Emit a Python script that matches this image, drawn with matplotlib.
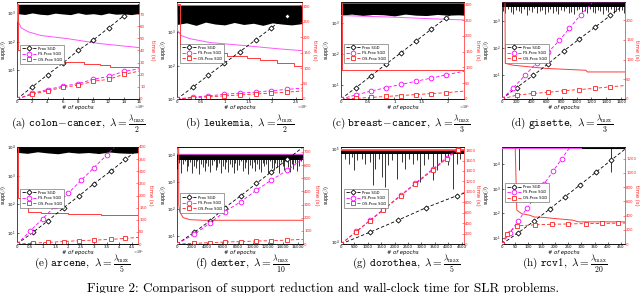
import numpy as np
import matplotlib
matplotlib.use("Agg")
import matplotlib.pyplot as plt
from matplotlib.ticker import FixedLocator, NullLocator

plt.rcParams['mathtext.fontset'] = 'cm'
plt.rcParams['font.family'] = ['DejaVu Sans']

# ---------------- data ----------------
legend_labels = ["Prox SGD", "FS-Prox SGD", "OS-Prox SGD"]

# (a) colon-cancer  (epochs in units of 1e4)
a_t_x = [0, 2, 4, 6, 8, 10, 12, 14, 16]
a_t_prox = [0, 10, 20, 29.5, 40, 48.6, 58.6, 68.6, 78]
a_t_fs = [0, 4.6, 7.8, 10.5, 12.7, 16.2, 18.6, 22.7, 24.9]
a_t_os = [0, 3.8, 6.8, 9.5, 11.4, 14.6, 16.2, 20.3, 23]
a_band_x = [0, 1, 2, 3, 4, 5, 6, 7, 8, 9, 10, 11, 12, 13, 14, 15, 16]
a_band_lo = [950, 880, 1000, 900, 860, 980, 920, 870, 1010, 890, 940, 860, 990, 900, 930, 870, 960]
a_band_hi = 2000
a_fs_x = [0, 0.05, 0.1, 0.56, 1.42, 3.15, 6.6, 10.9, 16]
a_fs_supp = [2000, 2000, 525, 300, 222, 163, 127, 85, 62]
a_os_x = [0, 0.1, 0.13, 0.56, 2.3, 4.0, 5.7, 8.75, 10.9, 12.2, 16]
a_os_supp = [2000, 2000, 49, 38, 29, 22, 19.5, 17, 15, 13, 12]

# (b) leukemia (epochs in units of 1e5)
b_t_x = [0, 0.33, 0.66, 0.99, 1.32, 1.65, 1.98, 2.31, 2.62]
b_t_prox = [0, 38, 77, 115, 153, 191, 230, 268, 304]
b_t_fs = [0, 6, 10, 15, 19, 22, 27, 31, 35]
b_t_os = [0, 4, 7, 10, 13, 16, 19, 22, 26]
b_band_x = [0, 0.2, 0.4, 0.6, 0.8, 1.0, 1.2, 1.4, 1.6, 1.8, 2.0, 2.2, 2.4, 2.62]
b_band_lo = [1700, 1900, 1600, 2000, 1750, 1650, 1950, 1700, 1850, 1600, 1900, 1750, 1650, 1800]
b_band_hi = 6500
b_fs_x = [0, 0.01, 0.09, 0.27, 0.69, 1.39, 2.1, 2.62]
b_fs_supp = [7129, 1120, 790, 640, 490, 400, 320, 280]
b_os_x = [0, 0.01, 0.06, 0.48, 1.04, 1.46, 1.75, 2.1, 2.45, 2.62]
b_os_supp = [7129, 7129, 320, 245, 196, 170, 148, 120, 97, 85]

# (c) breast-cancer (epochs in units of 1e5)
c_t_x = [0, 0.28, 0.56, 0.84, 1.12, 1.40, 1.68, 1.96, 2.3]
c_t_prox = [0, 36, 73, 110, 146, 183, 220, 256, 300]
c_t_fs = [0, 13, 25, 36, 46, 56, 66, 76, 88]
c_t_os = [0, 2, 5, 8, 11, 14, 17, 20, 25]
c_band_x = [0, 0.2, 0.4, 0.6, 0.8, 1.0, 1.2, 1.4, 1.6, 1.8, 2.0, 2.2, 2.3]
c_band_lo = [1800, 1950, 1750, 1900, 1850, 1700, 1950, 1800, 1750, 1900, 1800, 1850, 1800]
c_band_hi = 4500
c_fs_x = [0, 0.5, 1.0, 1.5, 2.0, 2.3]
c_fs_supp = [1750, 1650, 1550, 1420, 1320, 1260]
c_os_x = [0, 0.01, 2.3]
c_os_supp = [4800, 31, 31]

# (d) gisette
d_t_x = [0, 198, 419, 617, 829, 1036, 1247, 1454, 1650]
d_t_prox = [0, 29, 60, 89, 122, 152, 182, 212, 241]
d_t_fs_x = [0, 154, 308, 463, 617, 771, 903, 1058, 1650]
d_t_fs = [0, 29, 60, 91, 118, 149, 179, 214, 330]
d_t_os = [0, 10, 14, 17, 21, 24, 27, 31, 34]
d_band_x = [0, 1650]
d_band_lo = [3400, 3400]
d_band_hi = 5000
d_spike_lo = [2400, 1900, 2700, 2200, 1800, 2600, 2300, 2000, 2800, 1700, 2500, 2100,
              2900, 1900, 2300, 2600, 1800, 2200, 2700, 2000, 2400, 1750, 2600, 2300,
              2900, 2000, 2200, 1850, 2500, 2700, 2100, 2400, 1900, 2800, 2200, 2000,
              2600, 2350, 1800, 2500, 2150, 2700, 1950, 2400, 2250, 2600, 2000]
d_fs_x = [0, 1650]
d_fs_supp = [4900, 4900]
d_os_x = [0, 40, 44, 154, 375, 595, 1124, 1146, 1650]
d_os_supp = [5000, 5000, 27, 23, 20, 17.5, 15, 13, 13]

# (e) arcene (epochs in units of 1e5)
e_t_x = [0, 0.62, 1.2, 1.82, 2.43, 3.01, 3.66, 4.24, 4.73]
e_t_prox = [0, 48, 95, 149, 199, 249, 300, 349, 390]
e_t_fs_x = [0, 0.5, 1.0, 1.5, 2.0, 2.5, 3.0, 3.5, 4.73]
e_t_fs = [0, 52, 104, 157, 209, 262, 314, 366, 495]
e_t_os = [0, 3, 7, 10, 14, 16, 19, 23, 27]
e_band_x = [0, 0.4, 0.8, 1.2, 1.6, 2.0, 2.4, 2.8, 3.2, 3.6, 4.0, 4.4, 4.73]
e_band_lo = [6500, 6000, 6800, 6200, 5800, 6600, 6100, 6400, 5900, 6700, 6200, 6000, 6300]
e_band_hi = 10000
e_fs_x = [0, 0.2, 1.1, 3.0, 4.73]
e_fs_supp = [10000, 9500, 7500, 7200, 7000]
e_os_x = [0, 0.02, 0.04, 0.17, 0.43, 0.94, 1.98, 3.27, 4.73]
e_os_supp = [10000, 10000, 158, 81, 55, 48, 44, 42, 39]

# (f) dexter
f_t_x = [0, 2250, 4320, 6300, 8420, 10490, 12470, 14590, 16660]
f_t_prox = [0, 88, 174, 275, 366, 460, 548, 644, 736]
f_t_fs = [0, 73, 157, 245, 321, 409, 485, 561, 649]
f_t_os = [0, 5, 10, 15, 18, 23, 25, 30, 35]
f_band_x = [0, 16660]
f_band_lo = [6600, 6600]
f_band_hi = 10700
f_spike_lo = [3000, 5200, 2100, 4500, 6000, 2600, 3800, 5500, 2200, 4100, 3300, 5800,
              2000, 4700, 3500, 2500, 5100, 3900, 2300, 4400, 6100, 2800, 3600, 5300,
              2100, 4000, 3100, 5600, 2400, 4600, 3700, 2200, 5000, 2900, 4200, 6200,
              2500, 3400, 5400, 2000, 4300, 3200, 5700, 2600, 4800, 3000, 2300, 5200,
              3800, 4500, 2100, 5900, 3300, 2700, 4900, 3600, 2200, 5500, 4100, 2900,
              6300, 3500, 2400, 4700, 3100, 5000, 2600, 4000, 5800, 3400]
f_fs_x = [0, 100, 16660]
f_fs_supp = [20000, 10700, 10700]
f_os_x = [0, 220, 230, 350, 800, 1700, 3500, 16660]
f_os_supp = [20000, 20000, 150, 80, 48, 40, 38, 38]

# (g) dorothea
g_t_prox_x = [0, 1066, 2144, 3172, 4312, 4590]
g_t_prox = [0, 223, 460, 696, 925, 973]
g_t_x = [0, 570, 1090, 1585, 2240, 2775, 3440, 3940, 4370, 4590]
g_t_fs = [0, 240, 458, 666, 941, 1166, 1445, 1655, 1835, 1930]
g_t_os = [0, 235, 450, 655, 930, 1150, 1425, 1635, 1810, 1905]
g_band_x = [0, 4590]
g_band_lo = [88000, 88000]
g_band_hi = 100000
g_spike_x = [160, 285, 409, 496, 595, 781, 905, 1090, 1190, 1276, 1400, 1524, 1648, 1772,
             1896, 2082, 2268, 2392, 2553, 2701, 2825, 2949, 3098, 3259, 3445, 3594, 3717,
             3879, 4002, 4188, 4312, 4436]
g_spike_lo = [78700, 69800, 82000, 58900, 75500, 78700, 69800, 72400, 40700, 61500, 78700,
              50100, 39200, 66800, 75500, 48000, 72400, 61500, 78700, 69800, 75500, 44300,
              66800, 78700, 46100, 58900, 72400, 78700, 66800, 37600, 69800, 78700]
g_fs_x = [0, 4590]
g_fs_supp = [100000, 100000]
g_os_x = [0, 4590]
g_os_supp = [98500, 98500]

# (h) rcv1
h_t_prox_x = [0, 62, 120, 180, 238, 296, 355, 413, 465]
h_t_prox = [0, 160, 320, 490, 665, 835, 1010, 1180, 1335]
h_t_fs_x = [0, 30, 62, 95, 128, 160, 193, 225, 300]
h_t_fs = [0, 160, 330, 505, 680, 850, 1025, 1195, 1590]
h_t_os_x = [0, 18, 56, 123, 190, 250, 318, 378, 437, 465]
h_t_os = [0, 135, 255, 270, 278, 282, 287, 290, 293, 295]
h_line_x = [0, 465]
h_line_supp = [47236, 47236]
h_spike_x = [65, 412]
h_spike_lo = [5800, 4800]
h_fs_x = [0, 300]
h_fs_supp = [47236, 47236]
h_os_x = [0, 50, 56, 74, 105, 123, 142, 265, 290, 465]
h_os_supp = [47236, 47236, 132, 95, 82, 69, 69, 52, 44, 44]

# ---------------- style ----------------
K = '#000000'
M = '#ff00ff'
MS = '#ff55ff'
R = '#ff2020'
RS = '#ff3b3b'
TICK_FS = 2.9
RTICK_FS = 2.85
LAB_FS = 3.8
YLAB_FS = 3.5

fig = plt.figure(figsize=(6.4, 2.93), dpi=100)
W, H = 640.0, 293.0


def make_axes(l, r, t, b):
    return fig.add_axes([l / W, 1 - b / H, (r - l) / W, (b - t) / H])


dash = (0, (4, 2.5))


def panel(box, xlim, xticks, xticklabels, mult, ylimL, ytL, ylimR, ytR,
          t_lines, fs, os_, os_steps=False, band=None, spikes=None, line=None,
          leg_y=0.59, fs_under=False, ylab_off=12.0):
    l, r, t, b = box
    wpx = r - l
    ax = make_axes(*box)
    ax.set_yscale('log')
    ax.set_xlim(*xlim)
    ax.set_ylim(*ylimL)
    zb = 2
    if band is not None:
        bx, blo, bhi = band
        ax.fill_between(bx, blo, [bhi] * len(bx), color=K, lw=0, zorder=zb)
    if spikes is not None:
        sx, slo, stop = spikes
        ax.vlines(sx, slo, stop, color=K, lw=0.55, zorder=zb)
    if line is not None:
        ax.plot(line[0], line[1], color=K, lw=0.8, zorder=zb)
    ax.plot(fs[0], fs[1], color=MS, lw=0.7, zorder=(1 if fs_under else 3))
    ax.plot(os_[0], os_[1], color=RS, lw=0.7, zorder=3,
            drawstyle='steps-post' if os_steps else 'default')
    ax.yaxis.set_major_locator(FixedLocator(ytL))
    ax.yaxis.set_minor_locator(NullLocator())
    ax.set_xticks(xticks)
    ax.set_xticklabels(xticklabels)
    ax.tick_params(axis='both', labelsize=TICK_FS, direction='in', length=1.5,
                   width=0.4, pad=0.9)
    ax.tick_params(axis='y', which='both', right=False)
    for s in ax.spines.values():
        s.set_linewidth(0.5)
    ax.spines['right'].set_visible(False)
    ax.text(-ylab_off / wpx, 0.5, r'supp($\hat{\beta}$)', transform=ax.transAxes,
            fontsize=YLAB_FS, rotation=90, ha='center', va='center')
    ax.set_xlabel('# of epochs', fontsize=LAB_FS, style='italic', labelpad=0.8)
    if mult:
        ax.text(1.0, -0.04, r'$\times 10^{%d}$' % mult, transform=ax.transAxes,
                fontsize=3.0, ha='center', va='top')

    ax2 = ax.twinx()
    ax2.set_ylim(*ylimR)
    ax2.set_yticks(ytR)
    ax2.tick_params(axis='y', labelsize=RTICK_FS, colors=R, direction='in',
                    length=1.5, width=0.4, pad=0.8)
    for s in ax2.spines.values():
        s.set_linewidth(0.5)
    ax2.spines['right'].set_color(R)
    ax2.spines['left'].set_visible(False)
    rx = min(r + 13.0, 637.0)
    ax2.text((rx - l) / wpx, 0.5, 'time (s)', transform=ax2.transAxes,
             fontsize=LAB_FS, color=R, rotation=270, ha='center', va='center')
    handles = []
    for (tx, ty), col, mk, ms in zip(t_lines, [K, M, R], ['D', 'o', 's'],
                                     [2.6, 3.4, 3.0]):
        h, = ax2.plot(tx, ty, ls=dash, color=col, lw=0.6, marker=mk, ms=ms,
                      mfc='white', mec=col, mew=0.6,
                      markevery=list(range(len(tx) - 1)))
        handles.append(h)
    leg = ax2.legend(handles, legend_labels, loc='upper left',
                     bbox_to_anchor=(0.01, leg_y), fontsize=2.7,
                     handlelength=3.6, handletextpad=0.6, borderpad=0.55,
                     labelspacing=0.4, frameon=True, fancybox=False,
                     edgecolor='#555555', framealpha=1)
    leg.get_frame().set_linewidth(0.4)
    return ax, ax2


# row 1
panel((17, 139, 2, 99), (0, 16), list(range(0, 17, 2)),
      [str(v) for v in range(0, 17, 2)], 4,
      (1, 2400), [10, 100, 1000], (0, 80), list(range(0, 71, 10)),
      [(a_t_x, a_t_prox), (a_t_x, a_t_fs), (a_t_x, a_t_os)],
      (a_fs_x, a_fs_supp), (a_os_x, a_os_supp), os_steps=True,
      band=(a_band_x, a_band_lo, a_band_hi), leg_y=0.58, ylab_off=13)

panel((177, 302, 2, 99), (0, 2.62), [0, 0.5, 1, 1.5, 2, 2.5],
      ['0', '0.5', '1', '1.5', '2', '2.5'], 5,
      (10, 8000), [10, 100, 1000], (0, 313), list(range(0, 301, 50)),
      [(b_t_x, b_t_prox), (b_t_x, b_t_fs), (b_t_x, b_t_os)],
      (b_fs_x, b_fs_supp), (b_os_x, b_os_supp), os_steps=True,
      band=(b_band_x, b_band_lo, b_band_hi), leg_y=0.59, ylab_off=13)

panel((341, 464, 2, 99), (0, 2.3), [0, 0.5, 1, 1.5, 2],
      ['0', '0.5', '1', '1.5', '2'], 5,
      (3.5, 4800), [10, 100, 1000], (0, 307), list(range(0, 301, 50)),
      [(c_t_x, c_t_prox), (c_t_x, c_t_fs), (c_t_x, c_t_os)],
      (c_fs_x, c_fs_supp), (c_os_x, c_os_supp), os_steps=True,
      band=(c_band_x, c_band_lo, c_band_hi), leg_y=0.59, ylab_off=14)

panel((502, 625, 2, 99), (0, 1650), list(range(0, 1601, 200)),
      [str(v) for v in range(0, 1601, 200)], None,
      (1.3, 5000), [10, 100, 1000], (0, 246), list(range(0, 201, 50)),
      [(d_t_x, d_t_prox), (d_t_fs_x, d_t_fs), (d_t_x, d_t_os)],
      (d_fs_x, d_fs_supp), (d_os_x, d_os_supp),
      band=(d_band_x, d_band_lo, d_band_hi),
      spikes=(np.linspace(10, 1640, len(d_spike_lo)), d_spike_lo, d_band_hi),
      leg_y=0.59, ylab_off=15)

# row 2
panel((17, 138, 147, 244), (0, 4.73), [0, 0.5, 1, 1.5, 2, 2.5, 3, 3.5, 4, 4.5],
      ['0', '0.5', '1', '1.5', '2', '2.5', '3', '3.5', '4', '4.5'], 5,
      (4, 10000), [10, 100, 1000, 10000], (0, 400), list(range(0, 401, 50)),
      [(e_t_x, e_t_prox), (e_t_fs_x, e_t_fs), (e_t_x, e_t_os)],
      (e_fs_x, e_fs_supp), (e_os_x, e_os_supp), os_steps=True,
      band=(e_band_x, e_band_lo, e_band_hi), leg_y=0.59, fs_under=True,
      ylab_off=13)

panel((177, 303, 147, 244), (0, 16660), list(range(0, 16001, 2000)),
      [str(v) for v in range(0, 16001, 2000)], None,
      (5, 20000), [10, 100, 1000, 10000], (0, 737), list(range(0, 701, 100)),
      [(f_t_x, f_t_prox), (f_t_x, f_t_fs), (f_t_x, f_t_os)],
      (f_fs_x, f_fs_supp), (f_os_x, f_os_supp),
      band=(f_band_x, f_band_lo, f_band_hi),
      spikes=(np.linspace(60, 16600, len(f_spike_lo)), f_spike_lo, f_band_hi),
      leg_y=0.54, ylab_off=13)

panel((341, 464, 147, 244), (0, 4590), list(range(0, 4501, 500)),
      [str(v) for v in range(0, 4501, 500)], None,
      (9600, 105000), [10000, 100000], (0, 1860), list(range(0, 1801, 200)),
      [(g_t_prox_x, g_t_prox), (g_t_x, g_t_fs), (g_t_x, g_t_os)],
      (g_fs_x, g_fs_supp), (g_os_x, g_os_supp),
      band=(g_band_x, g_band_lo, g_band_hi),
      spikes=(g_spike_x, g_spike_lo, g_band_hi), leg_y=0.59, ylab_off=14)

panel((502, 625, 147, 244), (0, 465), list(range(0, 451, 50)),
      [str(v) for v in range(0, 451, 50)], None,
      (5.5, 50000), [10, 100, 1000, 10000], (0, 1365), list(range(0, 1201, 200)),
      [(h_t_prox_x, h_t_prox), (h_t_fs_x, h_t_fs), (h_t_os_x, h_t_os)],
      (h_fs_x, h_fs_supp), (h_os_x, h_os_supp),
      line=(h_line_x, h_line_supp),
      spikes=(h_spike_x, h_spike_lo, h_line_supp[0]), leg_y=0.65, ylab_off=15)

# captions
captions = [
    (78, 125, 'a', 'colon{-}cancer', 2),
    (240, 125, 'b', 'leukemia', 2),
    (401, 125, 'c', 'breast{-}cancer', 3),
    (562, 125, 'd', 'gisette', 3),
    (82, 265, 'e', 'arcene', 5),
    (242, 265, 'f', 'dexter', 10),
    (406, 265, 'g', 'dorothea', 5),
    (565, 265, 'h', 'rcv1', 20),
]
for cx, cy, letter, name, den in captions:
    s = r'$\mathrm{(%s)}\ \mathtt{%s},\ \lambda = \frac{\lambda_{\mathrm{max}}}{%d}$' % (letter, name, den)
    fig.text(cx / W, 1 - cy / H, s, fontsize=8.0, ha='center', va='center')

fig.text(323 / W, 1 - 282.5 / H,
         'Figure 2: Comparison of support reduction and wall-clock time for SLR problems.',
         fontsize=9.5, family='cmr10', ha='center', va='top')

fig.savefig('out.png', dpi=100)
